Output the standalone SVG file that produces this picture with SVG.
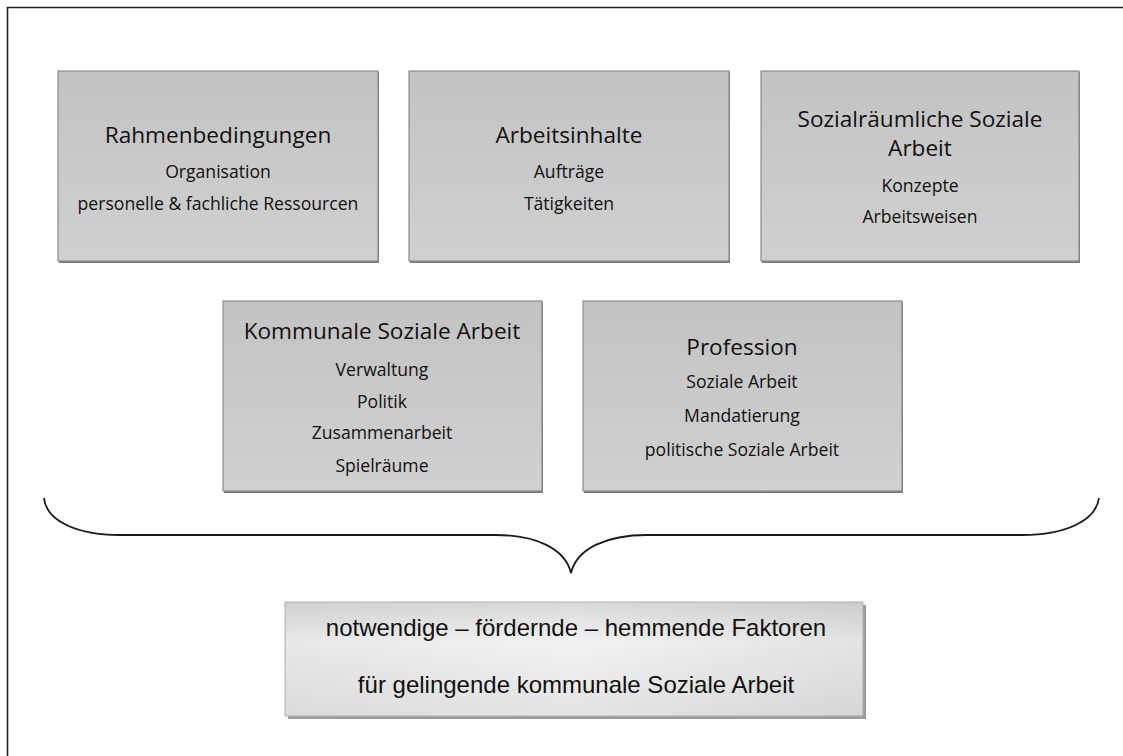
<svg xmlns="http://www.w3.org/2000/svg" width="1123" height="756" viewBox="0 0 1123 756">
  <defs>
    <linearGradient id="boxFill" x1="0" y1="0" x2="0" y2="1">
      <stop offset="0" stop-color="#c3c3c3"/>
      <stop offset="1" stop-color="#d0d0d0"/>
    </linearGradient>
    <linearGradient id="resultFill" x1="0" y1="0" x2="0" y2="1">
      <stop offset="0" stop-color="#d9d9d9"/>
      <stop offset="0.35" stop-color="#f2f2f2"/>
      <stop offset="1" stop-color="#e4e4e4"/>
    </linearGradient>
    <linearGradient id="resultSide" x1="0" y1="0" x2="1" y2="0">
      <stop offset="0" stop-color="#000" stop-opacity="0.04"/>
      <stop offset="0.5" stop-color="#000" stop-opacity="0"/>
      <stop offset="1" stop-color="#000" stop-opacity="0.06"/>
    </linearGradient>
  </defs>
  <style>
    .frame { fill: none; stroke: #222; stroke-width: 1.6; }
    .box { fill: url(#boxFill); stroke: #8c8c8c; stroke-width: 1.2; }
    .shadow { fill: #7a7a7a; }
    .title { font-family: "Open Sans", "Noto Sans", sans-serif; font-size: 22.6px; fill: #111; text-anchor: middle; }
    .sub { font-family: "Open Sans", "Noto Sans", sans-serif; font-size: 17.6px; fill: #111; text-anchor: middle; }
    .result { fill: url(#resultFill); stroke: #b4b4b4; stroke-width: 1; }
    .resultText { font-family: "Liberation Sans", Arial, sans-serif; font-size: 24px; fill: #111; text-anchor: middle; }
    .brace { fill: none; stroke: #1a1a1a; stroke-width: 1.8; }
  </style>

  <rect width="1123" height="756" fill="#fff"/>
  <!-- outer frame -->
  <path class="frame" d="M7.5,760 V7.5 H1130"/>

  <g id="rahmenbedingungen">
    <rect class="shadow" x="59" y="72" width="320" height="191"/>
    <rect class="box" x="58" y="71" width="320" height="190"/>
    <text class="title" x="218" y="143">Rahmenbedingungen</text>
    <text class="sub" x="218" y="178">Organisation</text>
    <text class="sub" x="218" y="210">personelle &amp; fachliche Ressourcen</text>
  </g>

  <g id="arbeitsinhalte">
    <rect class="shadow" x="410" y="72" width="320" height="191"/>
    <rect class="box" x="409" y="71" width="320" height="190"/>
    <text class="title" x="569" y="143">Arbeitsinhalte</text>
    <text class="sub" x="569" y="178">Aufträge</text>
    <text class="sub" x="569" y="210">Tätigkeiten</text>
  </g>

  <g id="sozialraeumliche-soziale-arbeit">
    <rect class="shadow" x="762" y="72" width="318" height="191"/>
    <rect class="box" x="761" y="71" width="318" height="190"/>
    <text class="title" x="920" y="127">Sozialräumliche Soziale</text>
    <text class="title" x="920" y="156">Arbeit</text>
    <text class="sub" x="920" y="192">Konzepte</text>
    <text class="sub" x="920" y="223">Arbeitsweisen</text>
  </g>

  <g id="kommunale-soziale-arbeit">
    <rect class="shadow" x="224" y="302" width="319" height="191"/>
    <rect class="box" x="223" y="301" width="319" height="190"/>
    <text class="title" x="382" y="339">Kommunale Soziale Arbeit</text>
    <text class="sub" x="382" y="376">Verwaltung</text>
    <text class="sub" x="382" y="408">Politik</text>
    <text class="sub" x="382" y="439">Zusammenarbeit</text>
    <text class="sub" x="382" y="472">Spielräume</text>
  </g>

  <g id="profession">
    <rect class="shadow" x="584" y="302" width="319" height="191"/>
    <rect class="box" x="583" y="301" width="319" height="190"/>
    <text class="title" x="742" y="355">Profession</text>
    <text class="sub" x="742" y="388">Soziale Arbeit</text>
    <text class="sub" x="742" y="422">Mandatierung</text>
    <text class="sub" x="742" y="456">politische Soziale Arbeit</text>
  </g>

  <!-- curly brace gathering all five fields -->
  <g id="connectors">
    <path class="brace" d="M44,498 C46,520 75,535 120,535 H495 C535,535 565,548 571,573 C577,548 607,535 647,535 H1022 C1067,535 1096,520 1099,498"/>
  </g>

  <g id="faktoren">
    <rect fill="#9a9a9a" x="288" y="605" width="578" height="114"/>
    <rect class="result" x="285" y="602" width="578" height="114"/>
    <rect fill="url(#resultSide)" x="285" y="602" width="578" height="114"/>
    <text class="resultText" x="576" y="636">notwendige – fördernde – hemmende Faktoren</text>
    <text class="resultText" x="576" y="693">für gelingende kommunale Soziale Arbeit</text>
  </g>
</svg>
